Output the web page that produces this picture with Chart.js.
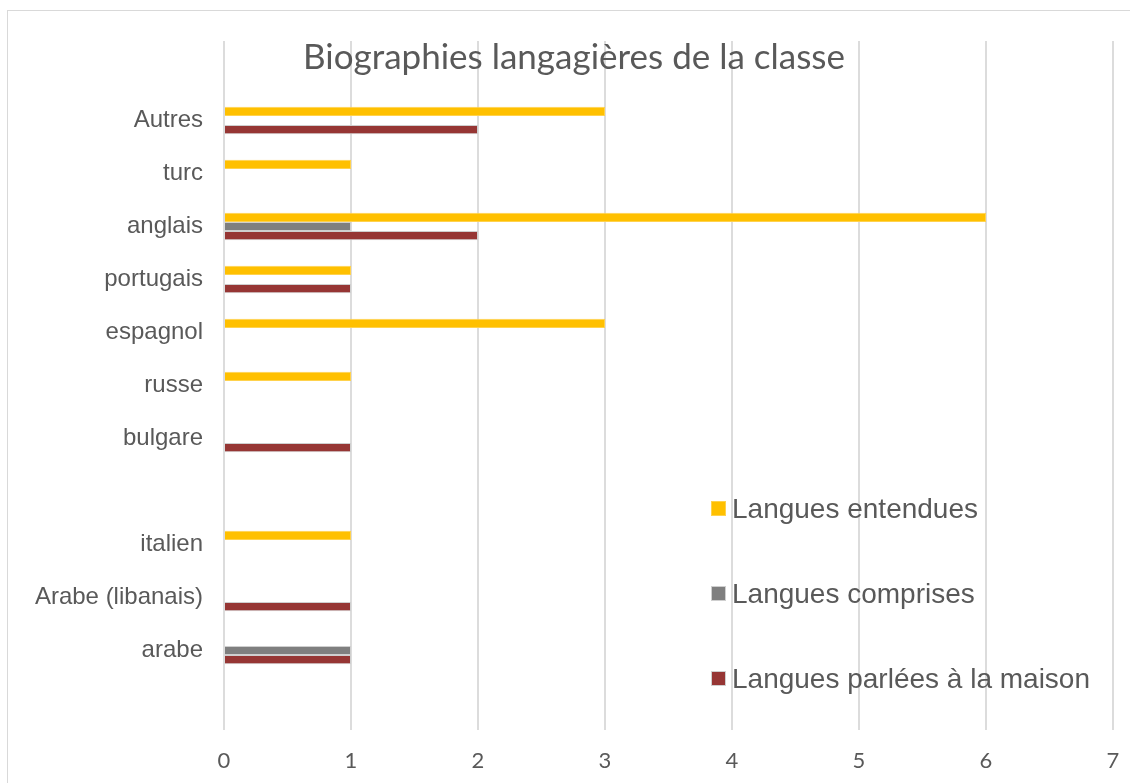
<!DOCTYPE html>
<html><head><meta charset="utf-8">
<script src="https://cdn.jsdelivr.net/npm/chart.js@4"></script>
<style>html,body{margin:0;padding:0;background:#fff}</style>
</head><body>
<canvas id="c" width="1130" height="783"></canvas>
<script>
const categories = ['', 'Autres', 'turc', 'anglais', 'portugais', 'espagnol', 'russe', 'bulgare', ' ', 'italien', 'Arabe (libanais)', 'arabe', '  '];
const entendues = [null, 3, 1, 6, 1, 3, 1, null, null, 1, null, null, null];
const comprises = [null, null, null, 1, null, null, null, null, null, null, null, 1, null];
const parlees   = [null, 2, null, 2, 1, null, null, 1, null, null, 1, 1, null];
const seriesNames = ['Langues entendues', 'Langues comprises', 'Langues parlées à la maison'];
const xTicks = [0, 1, 2, 3, 4, 5, 6, 7];
const chartTitle = 'Biographies langagières de la classe';

const colors = ['#FFC000', '#7F7F7F', '#963634'];
const borders = ['#FFD24D', '#CFCFCF', '#CFCFCF'];
const TEXT = '#595959';

const framePlugin = {
  id: 'frame',
  beforeDraw(chart) {
    const ctx = chart.ctx;
    ctx.save();
    ctx.fillStyle = '#fff';
    ctx.fillRect(0, 0, chart.width, chart.height);
    ctx.strokeStyle = '#d9d9d9';
    ctx.lineWidth = 1;
    ctx.strokeRect(7.5, 10.5, chart.width + 10, chart.height + 10);
    ctx.restore();
  }
};

const titleLegendPlugin = {
  id: 'titleLegend',
  afterDraw(chart) {
    const ctx = chart.ctx;
    ctx.save();
    ctx.fillStyle = TEXT;
    ctx.font = '35px Lato';
    ctx.textAlign = 'center';
    ctx.textBaseline = 'middle';
    ctx.fillText(chartTitle, 574, 58);
    ctx.font = '28px "Liberation Sans", Arial';
    ctx.textAlign = 'left';
    chart.data.datasets.forEach((ds, i) => {
      const y = 509 + i * 85;
      ctx.fillStyle = ds.borderColor;
      ctx.fillRect(711, y - 8, 15, 15);
      ctx.fillStyle = ds.backgroundColor;
      ctx.fillRect(712, y - 7, 13, 13);
      ctx.fillStyle = TEXT;
      ctx.fillText(ds.label, 732, y + 1);
    });
    ctx.restore();
  }
};

const seriesData = [entendues, comprises, parlees];

new Chart(document.getElementById('c'), {
  type: 'bar',
  data: {
    labels: categories,
    datasets: seriesNames.map((name, i) => ({
      label: name,
      data: seriesData[i],
      backgroundColor: colors[i],
      borderColor: borders[i],
      borderWidth: 1,
      categoryPercentage: 0.52,
      barPercentage: 1.0
    }))
  },
  options: {
    indexAxis: 'y',
    responsive: false,
    animation: false,
    layout: { padding: { top: 41, right: 17, left: 0, bottom: 0 } },
    plugins: { legend: { display: false }, title: { display: false }, tooltip: { enabled: false } },
    scales: {
      x: {
        min: 0, max: 7,
        afterBuildTicks: (scale) => { scale.ticks = xTicks.map(v => ({ value: v })); },
        afterFit: (scale) => { scale.height = 53; },
        grid: { color: '#dcdcdc', lineWidth: 2, drawTicks: true, tickLength: 18, tickColor: 'rgba(0,0,0,0)' },
        border: { display: false },
        ticks: { color: TEXT, font: { family: 'Lato', size: 22 }, padding: 0 }
      },
      y: {
        afterFit: (scale) => { scale.width = 224; },
        grid: { display: false, drawTicks: false },
        border: { display: false },
        ticks: { color: TEXT, font: { family: '"Liberation Sans", Arial', size: 24 }, padding: 21, autoSkip: false }
      }
    }
  },
  plugins: [framePlugin, titleLegendPlugin]
});
</script>
</body></html>
